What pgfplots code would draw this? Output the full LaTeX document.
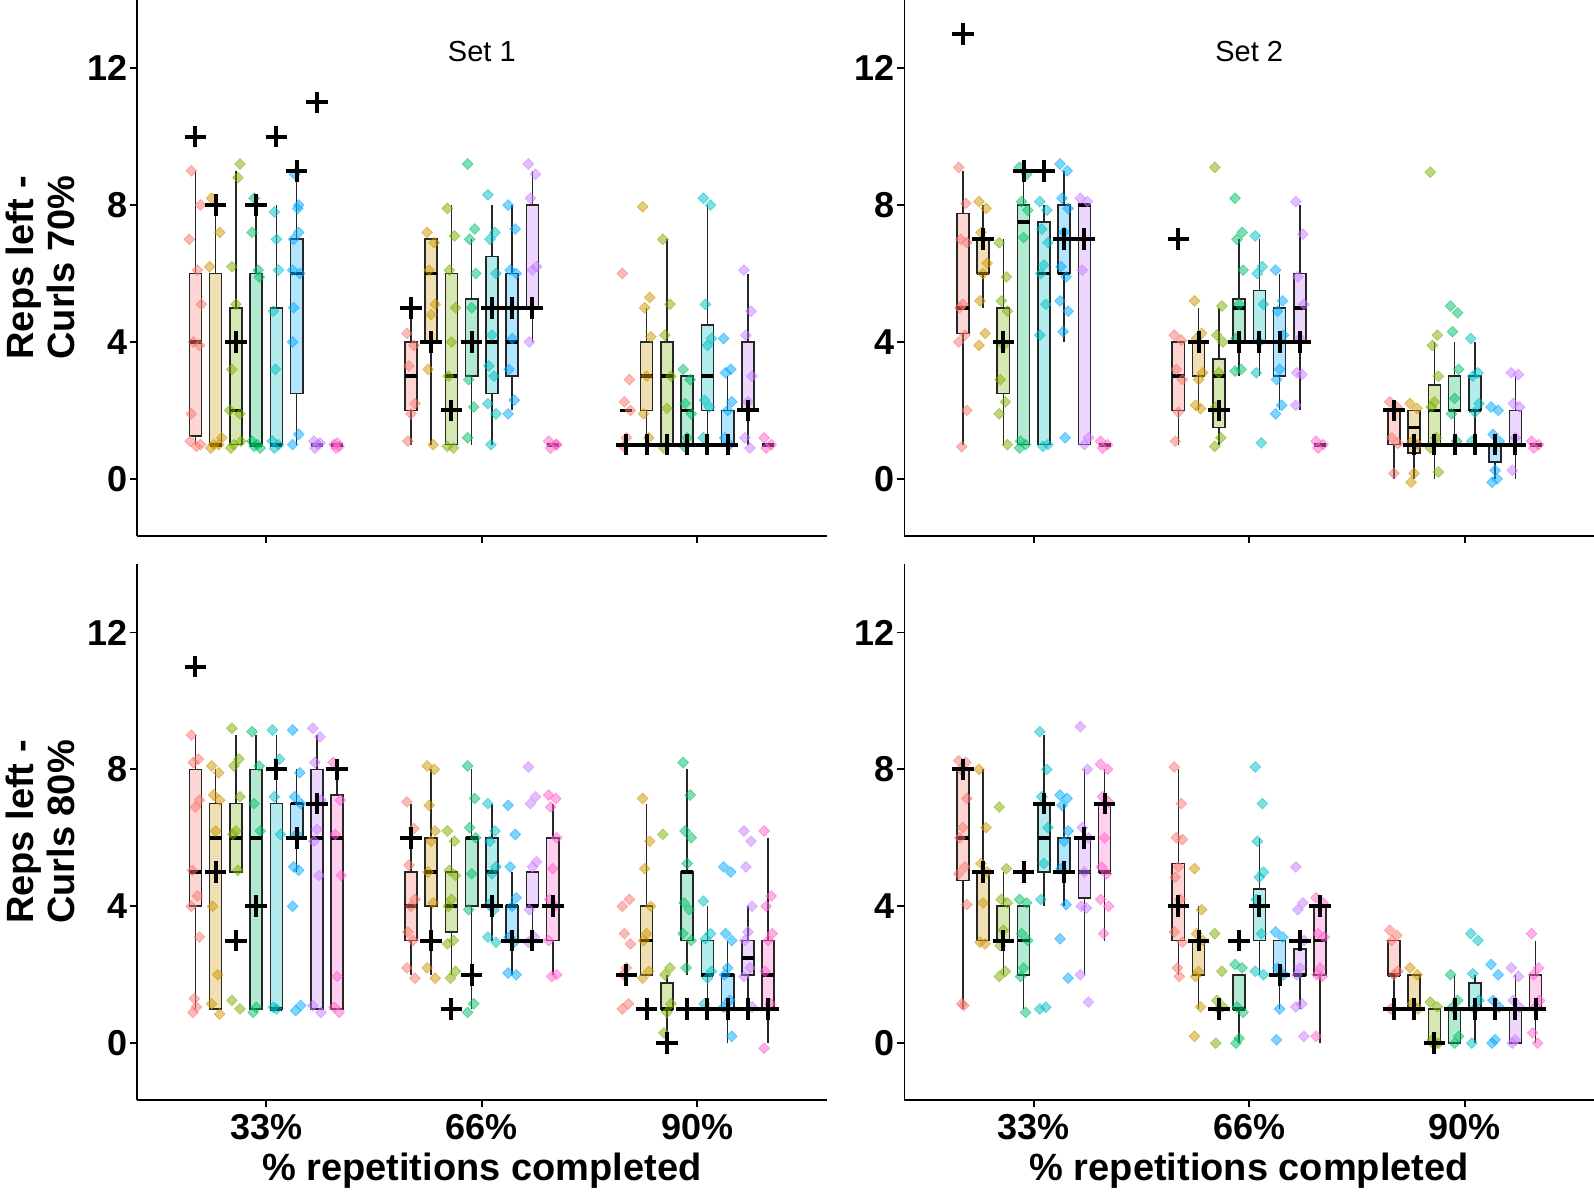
\documentclass[border=0pt]{standalone}
\usepackage{fontspec}
\setmainfont{Liberation Sans}
\usepackage{pgfplots}
\pgfplotsset{compat=1.18}
\usepackage{pgfplotstable}
\usepgfplotslibrary{statistics}
\definecolor{c0}{HTML}{F8766D}
\definecolor{c1}{HTML}{CD9600}
\definecolor{c2}{HTML}{7CAE00}
\definecolor{c3}{HTML}{00BE67}
\definecolor{c4}{HTML}{00BFC4}
\definecolor{c5}{HTML}{00A9FF}
\definecolor{c6}{HTML}{C77CFF}
\definecolor{c7}{HTML}{FF61CC}
\pgfplotsset{
  panel/.style={
    scale only axis, width=344.8pt, height=268pt,
    xmin=0.4, xmax=3.6, ymin=-1.66, ymax=14,
    axis x line*=bottom, axis y line*=left,
    axis line style={line width=0.9pt, black},
    xtick={1,2,3}, ytick={0,4,8,12},
    tick align=outside, major tick length=3.5pt,
    every tick/.style={line width=0.9pt, black},
    tick label style={font=\fontsize{18}{20}\selectfont\bfseries},
    /pgf/number format/assume math mode=true,
    yticklabel style={inner xsep=1pt},
    ylabel style={at={(axis description cs:-0.14,0.5)}, anchor=center, align=center, font=\fontsize{19}{20.5}\selectfont\bfseries},
    xlabel style={at={(axis description cs:0.5,0)}, anchor=center, yshift=-35.5pt, font=\fontsize{19}{21}\selectfont\bfseries},
  },
  /pgfplots/boxplot/every median/.style={line width=1.9pt, draw=black},
  pts/.style={scatter, only marks, scatter src=explicit symbolic, mark=square*, mark size=1.9pt,
    mark options={rotate=45, opacity=0.5},
    scatter/classes={r={c0},o={c1},l={c2},g={c3},t={c4},b={c5},p={c6},k={c7}}},
  pl/.style={only marks, mark=+, mark size=5.4pt, black, line width=2pt, mark options={line width=2pt, draw=black}},
}
\newcommand\bx[7]{\addplot[boxplot prepared={draw direction=y,draw position=#1,lower whisker=#2,lower quartile=#3,median=#4,upper quartile=#5,upper whisker=#6,box extend=0.056,whisker extend=0}, draw=black!85, line width=0.8pt, fill=#7, fill opacity=0.3] coordinates {};}
% points are stored with a dodge step of 0.1; drawn with the chart's dodge step of 0.094
\newcommand\ptsplot[1]{\addplot[pts] table[x expr={round(\thisrow{x})+0.94*(\thisrow{x}-round(\thisrow{x}))}, y=y, meta=c]{#1};}

% ---------- jittered points ----------
\pgfplotstableread[row sep=\\]{x y c\\
0.63 9.0 r\\ 0.675 8.0 r\\ 0.62 7.0 r\\ 0.66 6.1 r\\ 0.68 5.1 r\\ 0.64 4.0 r\\ 0.67 3.9 r\\ 0.63 1.9 r\\ 0.625 1.1 r\\ 0.655 0.95 r\\ 0.675 1.0 r\\
0.73 8.2 o\\ 0.77 7.2 o\\ 0.72 6.2 o\\ 0.78 1.2 o\\ 0.74 1.0 o\\ 0.725 0.9 o\\ 0.765 1.0 o\\
0.87 9.2 l\\ 0.86 8.8 l\\ 0.83 6.2 l\\ 0.85 5.1 l\\ 0.83 3.2 l\\ 0.82 2.0 l\\ 0.87 1.9 l\\ 0.84 1.0 l\\ 0.825 0.9 l\\ 0.875 1.1 l\\
0.94 8.2 g\\ 0.93 7.2 g\\ 0.96 6.1 g\\ 0.965 5.9 g\\ 0.93 1.1 g\\ 0.955 1.0 g\\ 0.97 0.9 g\\ 0.94 0.95 g\\
1.04 7.8 t\\ 1.05 7.0 t\\ 1.06 6.1 t\\ 1.035 4.9 t\\ 1.045 3.2 t\\ 1.03 1.1 t\\ 1.06 1.0 t\\ 1.04 0.9 t\\
1.14 8.9 b\\ 1.16 8.0 b\\ 1.155 7.9 b\\ 1.16 7.2 b\\ 1.135 7.0 b\\ 1.13 6.1 b\\ 1.165 6.0 b\\ 1.135 5.0 b\\ 1.13 4.0 b\\ 1.16 1.3 b\\ 1.13 1.0 b\\
1.235 1.1 p\\ 1.255 1.0 p\\ 1.24 0.9 p\\ 1.265 1.05 p\\
1.335 1.0 k\\ 1.36 0.95 k\\ 1.35 1.05 k\\ 1.345 0.9 k\\
1.63 4.25 r\\ 1.665 3.9 r\\ 1.64 3.3 r\\ 1.67 2.2 r\\ 1.65 1.9 r\\ 1.635 1.1 r\\
1.73 7.2 o\\ 1.765 6.9 o\\ 1.74 6.1 o\\ 1.77 5.1 o\\ 1.75 4.8 o\\ 1.735 3.2 o\\ 1.76 1.0 o\\
1.83 7.9 l\\ 1.865 7.1 l\\ 1.84 6.1 l\\ 1.87 5.0 l\\ 1.85 4.0 l\\ 1.835 3.0 l\\ 1.86 0.9 l\\ 1.83 0.95 l\\
1.93 9.2 g\\ 1.965 7.3 g\\ 1.94 7.0 g\\ 1.97 6.0 g\\ 1.95 5.0 g\\ 1.935 2.9 g\\ 1.96 2.1 g\\ 1.93 1.2 g\\
2.03 8.3 t\\ 2.065 7.2 t\\ 2.04 7.0 t\\ 2.07 6.0 t\\ 2.05 4.2 t\\ 2.035 3.3 t\\ 2.06 3.0 t\\ 2.03 2.2 t\\ 2.07 1.9 t\\ 2.045 1.0 t\\
2.13 8.0 b\\ 2.165 7.3 b\\ 2.14 6.1 b\\ 2.17 6.0 b\\ 2.15 4.1 b\\ 2.135 3.2 b\\ 2.16 2.3 b\\ 2.13 1.9 b\\
2.23 9.2 p\\ 2.265 8.9 p\\ 2.24 8.2 p\\ 2.27 6.2 p\\ 2.25 6.1 p\\ 2.235 4.0 p\\
2.33 1.1 k\\ 2.365 1.0 k\\ 2.34 0.9 k\\ 2.37 1.0 k\\
2.63 6.0 r\\ 2.665 2.9 r\\ 2.64 2.25 r\\ 2.67 2.0 r\\ 2.65 1.2 r\\ 2.635 0.95 r\\
2.73 7.95 o\\ 2.765 5.3 o\\ 2.74 5.0 o\\ 2.77 4.15 o\\ 2.75 3.0 o\\ 2.735 1.9 o\\ 2.76 1.2 o\\
2.83 7.0 l\\ 2.865 5.1 l\\ 2.84 4.2 l\\ 2.87 3.0 l\\ 2.85 2.06 l\\ 2.835 0.9 l\\
2.93 3.2 g\\ 2.965 2.9 g\\ 2.94 2.2 g\\ 2.97 1.9 g\\ 2.95 1.2 g\\ 2.935 0.95 g\\
3.03 8.2 t\\ 3.065 8.0 t\\ 3.04 5.1 t\\ 3.07 4.1 t\\ 3.05 3.9 t\\ 3.035 2.3 t\\ 3.06 2.1 t\\ 3.03 1.2 t\\
3.13 4.1 b\\ 3.165 3.2 b\\ 3.14 3.1 b\\ 3.17 2.25 b\\ 3.15 2.0 b\\ 3.135 1.2 b\\ 3.16 1.0 b\\
3.23 6.1 p\\ 3.265 4.9 p\\ 3.24 4.2 p\\ 3.27 3.0 p\\ 3.25 2.25 p\\ 3.235 1.2 p\\ 3.26 0.9 p\\
3.33 1.2 k\\ 3.365 1.0 k\\ 3.34 0.9 k\\
}\ptsA

\pgfplotstableread[row sep=\\]{x y c\\
0.63 9.1 r\\ 0.665 8.05 r\\ 0.64 7.0 r\\ 0.67 6.9 r\\ 0.65 5.1 r\\ 0.635 5.0 r\\ 0.66 4.2 r\\ 0.63 4.0 r\\ 0.67 2.0 r\\ 0.645 0.94 r\\
0.73 8.1 o\\ 0.765 7.9 o\\ 0.74 7.2 o\\ 0.77 6.3 o\\ 0.75 6.0 o\\ 0.735 5.2 o\\ 0.76 4.25 o\\ 0.73 3.9 o\\
0.83 6.9 l\\ 0.865 5.9 l\\ 0.84 5.2 l\\ 0.87 4.9 l\\ 0.85 3.9 l\\ 0.835 2.9 l\\ 0.86 2.25 l\\ 0.83 1.9 l\\ 0.87 1.0 l\\
0.93 9.1 g\\ 0.965 8.9 g\\ 0.94 8.1 g\\ 0.97 7.85 g\\ 0.95 7.05 g\\ 0.935 1.1 g\\ 0.96 1.0 g\\ 0.93 0.9 g\\
1.03 8.1 t\\ 1.065 7.85 t\\ 1.04 7.3 t\\ 1.07 6.9 t\\ 1.05 6.25 t\\ 1.035 6.0 t\\ 1.06 5.1 t\\ 1.03 4.2 t\\ 1.07 1.0 t\\ 1.045 0.95 t\\
1.13 9.2 b\\ 1.165 9.0 b\\ 1.14 8.2 b\\ 1.17 7.9 b\\ 1.15 7.2 b\\ 1.135 6.2 b\\ 1.16 5.9 b\\ 1.13 5.2 b\\ 1.17 4.9 b\\ 1.145 4.3 b\\ 1.155 1.2 b\\
1.23 8.2 p\\ 1.265 8.1 p\\ 1.24 6.1 p\\ 1.27 1.2 p\\ 1.25 1.0 p\\
1.33 1.1 k\\ 1.365 1.0 k\\ 1.34 0.9 k\\
1.63 4.2 r\\ 1.665 4.05 r\\ 1.64 3.2 r\\ 1.67 2.9 r\\ 1.65 1.95 r\\ 1.635 1.1 r\\
1.73 5.2 o\\ 1.765 4.25 o\\ 1.74 4.1 o\\ 1.77 3.1 o\\ 1.75 2.9 o\\ 1.735 2.15 o\\ 1.76 2.05 o\\
1.83 9.1 l\\ 1.865 5.05 l\\ 1.84 4.2 l\\ 1.87 4.0 l\\ 1.85 3.1 l\\ 1.835 2.1 l\\ 1.86 1.2 l\\ 1.83 0.95 l\\
1.93 8.2 g\\ 1.965 7.2 g\\ 1.94 7.0 g\\ 1.97 6.1 g\\ 1.95 5.1 g\\ 1.935 4.1 g\\ 1.96 3.2 g\\ 1.93 3.15 g\\
2.03 7.1 t\\ 2.065 6.2 t\\ 2.04 6.0 t\\ 2.07 5.1 t\\ 2.05 4.0 t\\ 2.035 3.1 t\\ 2.06 1.05 t\\
2.13 6.1 b\\ 2.165 5.2 b\\ 2.14 4.9 b\\ 2.17 4.2 b\\ 2.15 3.2 b\\ 2.135 2.9 b\\ 2.16 2.15 b\\ 2.13 1.9 b\\
2.23 8.1 p\\ 2.265 7.15 p\\ 2.24 5.9 p\\ 2.27 5.1 p\\ 2.25 4.1 p\\ 2.235 3.1 p\\ 2.26 3.05 p\\ 2.23 2.15 p\\
2.33 1.1 k\\ 2.365 1.0 k\\ 2.34 0.9 k\\
2.63 2.25 r\\ 2.665 2.1 r\\ 2.64 1.2 r\\ 2.67 1.04 r\\ 2.65 0.16 r\\
2.73 2.2 o\\ 2.765 2.06 o\\ 2.74 1.1 o\\ 2.77 1.0 o\\ 2.75 0.16 o\\ 2.735 -0.1 o\\
2.83 8.96 l\\ 2.865 4.2 l\\ 2.84 3.9 l\\ 2.87 3.0 l\\ 2.85 2.25 l\\ 2.835 2.1 l\\ 2.86 1.2 l\\ 2.83 0.9 l\\ 2.87 0.2 l\\
2.93 5.05 g\\ 2.965 4.85 g\\ 2.94 4.3 g\\ 2.97 3.2 g\\ 2.95 2.35 g\\ 2.935 1.9 g\\ 2.96 1.1 g\\
3.03 4.1 t\\ 3.065 3.1 t\\ 3.04 3.0 t\\ 3.07 2.2 t\\ 3.05 1.95 t\\ 3.035 1.1 t\\
3.13 2.1 b\\ 3.165 2.0 b\\ 3.14 1.3 b\\ 3.17 1.1 b\\ 3.15 0.25 b\\ 3.135 -0.1 b\\ 3.16 0.0 b\\
3.23 3.1 p\\ 3.265 3.05 p\\ 3.24 2.2 p\\ 3.27 2.1 p\\ 3.25 1.2 p\\ 3.235 0.25 p\\
3.33 1.1 k\\ 3.365 1.0 k\\ 3.34 0.9 k\\
}\ptsB

\pgfplotstableread[row sep=\\]{x y c\\
0.63 9.0 r\\ 0.665 8.3 r\\ 0.64 8.2 r\\ 0.67 7.1 r\\ 0.65 6.9 r\\ 0.635 5.05 r\\ 0.66 4.3 r\\ 0.63 4.0 r\\ 0.67 3.1 r\\ 0.645 1.3 r\\ 0.655 1.06 r\\ 0.638 0.9 r\\
0.73 8.1 o\\ 0.765 7.9 o\\ 0.74 7.25 o\\ 0.77 7.1 o\\ 0.75 6.2 o\\ 0.735 4.0 o\\ 0.76 2.0 o\\ 0.73 1.15 o\\ 0.77 0.85 o\\
0.83 9.2 l\\ 0.865 8.3 l\\ 0.84 8.1 l\\ 0.87 7.2 l\\ 0.85 6.2 l\\ 0.835 6.1 l\\ 0.86 5.05 l\\ 0.83 1.25 l\\ 0.87 1.0 l\\
0.93 9.1 g\\ 0.965 8.1 g\\ 0.94 7.0 g\\ 0.97 6.2 g\\ 0.95 1.05 g\\ 0.935 0.9 g\\
1.03 9.15 t\\ 1.065 8.3 t\\ 1.04 7.2 t\\ 1.07 6.1 t\\ 1.05 1.0 t\\ 1.035 1.05 t\\
1.13 9.15 b\\ 1.165 7.9 b\\ 1.14 7.2 b\\ 1.17 7.0 b\\ 1.15 6.1 b\\ 1.135 5.15 b\\ 1.16 5.05 b\\ 1.13 4.0 b\\ 1.17 1.1 b\\ 1.145 0.95 b\\
1.23 9.2 p\\ 1.265 8.95 p\\ 1.24 8.2 p\\ 1.27 7.1 p\\ 1.25 6.25 p\\ 1.235 5.9 p\\ 1.26 4.9 p\\ 1.23 1.1 p\\ 1.27 0.9 p\\
1.33 8.2 k\\ 1.365 7.1 k\\ 1.34 6.1 k\\ 1.37 4.9 k\\ 1.35 1.95 k\\ 1.335 1.05 k\\ 1.36 0.9 k\\
1.63 7.05 r\\ 1.665 6.27 r\\ 1.64 5.2 r\\ 1.67 4.2 r\\ 1.65 4.0 r\\ 1.635 3.25 r\\ 1.66 3.0 r\\ 1.63 2.2 r\\ 1.67 1.9 r\\
1.73 8.1 o\\ 1.765 8.0 o\\ 1.74 6.95 o\\ 1.77 6.2 o\\ 1.75 5.9 o\\ 1.735 5.0 o\\ 1.76 4.1 o\\ 1.73 2.2 o\\ 1.77 1.9 o\\
1.83 6.2 l\\ 1.865 5.9 l\\ 1.84 5.05 l\\ 1.87 4.9 l\\ 1.85 4.2 l\\ 1.835 4.0 l\\ 1.86 3.0 l\\ 1.83 2.9 l\\ 1.87 2.1 l\\ 1.845 1.9 l\\
1.93 8.1 g\\ 1.965 7.15 g\\ 1.94 6.3 g\\ 1.97 6.0 g\\ 1.95 4.95 g\\ 1.935 3.9 g\\ 1.96 1.15 g\\ 1.93 0.9 g\\
2.03 7.0 t\\ 2.065 6.2 t\\ 2.04 5.9 t\\ 2.07 5.15 t\\ 2.05 4.95 t\\ 2.035 4.05 t\\ 2.06 3.9 t\\ 2.03 3.1 t\\ 2.07 2.95 t\\
2.13 6.95 b\\ 2.165 6.1 b\\ 2.14 5.15 b\\ 2.17 4.25 b\\ 2.15 4.0 b\\ 2.135 3.1 b\\ 2.16 2.95 b\\ 2.13 2.05 b\\ 2.17 2.0 b\\
2.23 8.07 p\\ 2.265 7.2 p\\ 2.24 7.0 p\\ 2.27 5.3 p\\ 2.25 5.15 p\\ 2.235 3.9 p\\ 2.26 3.1 p\\ 2.23 2.95 p\\
2.33 7.25 k\\ 2.365 7.15 k\\ 2.34 6.9 k\\ 2.37 6.0 k\\ 2.35 5.1 k\\ 2.335 4.2 k\\ 2.36 4.0 k\\ 2.33 3.0 k\\ 2.37 2.0 k\\ 2.345 1.95 k\\
2.63 4.0 r\\ 2.665 4.2 r\\ 2.64 3.2 r\\ 2.67 2.9 r\\ 2.65 2.2 r\\ 2.635 2.0 r\\ 2.66 1.15 r\\ 2.63 1.0 r\\
2.73 7.15 o\\ 2.765 5.9 o\\ 2.74 5.1 o\\ 2.77 4.0 o\\ 2.75 3.2 o\\ 2.735 3.0 o\\ 2.76 2.1 o\\ 2.73 1.9 o\\
2.83 6.1 l\\ 2.865 2.2 l\\ 2.84 2.0 l\\ 2.87 1.15 l\\ 2.85 0.9 l\\ 2.835 0.3 l\\
2.93 8.2 g\\ 2.965 7.25 g\\ 2.94 6.2 g\\ 2.97 6.0 g\\ 2.95 5.25 g\\ 2.935 4.1 g\\ 2.96 3.9 g\\ 2.93 3.2 g\\ 2.97 3.0 g\\ 2.945 2.2 g\\
3.03 4.15 t\\ 3.065 3.2 t\\ 3.04 3.05 t\\ 3.07 2.1 t\\ 3.05 1.9 t\\ 3.035 1.15 t\\
3.13 5.15 b\\ 3.165 5.0 b\\ 3.14 3.2 b\\ 3.17 3.0 b\\ 3.15 2.2 b\\ 3.135 2.0 b\\ 3.16 1.25 b\\ 3.13 1.05 b\\ 3.17 0.2 b\\
3.23 6.2 p\\ 3.265 5.9 p\\ 3.24 5.15 p\\ 3.27 4.0 p\\ 3.25 3.25 p\\ 3.235 3.0 p\\ 3.26 2.2 p\\ 3.23 1.95 p\\ 3.27 1.06 p\\
3.33 6.2 k\\ 3.365 4.3 k\\ 3.34 4.0 k\\ 3.37 3.2 k\\ 3.35 3.0 k\\ 3.335 2.1 k\\ 3.36 1.15 k\\ 3.33 -0.15 k\\
}\ptsC

\pgfplotstableread[row sep=\\]{x y c\\
0.63 8.25 r\\ 0.665 8.2 r\\ 0.64 8.0 r\\ 0.67 7.15 r\\ 0.65 6.3 r\\ 0.635 6.0 r\\ 0.66 5.15 r\\ 0.63 4.95 r\\ 0.67 4.05 r\\ 0.645 1.15 r\\ 0.655 1.1 r\\
0.73 8.0 o\\ 0.765 6.3 o\\ 0.74 5.25 o\\ 0.77 5.0 o\\ 0.75 4.1 o\\ 0.735 2.95 o\\ 0.76 2.9 o\\
0.83 6.9 l\\ 0.865 5.1 l\\ 0.84 4.2 l\\ 0.87 4.1 l\\ 0.85 3.3 l\\ 0.835 2.85 l\\ 0.86 2.1 l\\ 0.83 1.95 l\\
0.93 4.2 g\\ 0.965 4.1 g\\ 0.94 3.2 g\\ 0.97 3.0 g\\ 0.95 2.2 g\\ 0.935 1.95 g\\ 0.96 0.9 g\\
1.03 9.1 t\\ 1.065 8.0 t\\ 1.04 7.2 t\\ 1.07 6.3 t\\ 1.05 5.25 t\\ 1.035 4.2 t\\ 1.06 1.05 t\\ 1.03 1.0 t\\
1.13 7.25 b\\ 1.165 7.15 b\\ 1.14 6.95 b\\ 1.17 6.2 b\\ 1.15 5.9 b\\ 1.135 5.1 b\\ 1.16 4.05 b\\ 1.13 3.05 b\\ 1.17 1.9 b\\
1.23 9.25 p\\ 1.265 8.0 p\\ 1.24 6.3 p\\ 1.27 6.0 p\\ 1.25 5.0 p\\ 1.235 4.0 p\\ 1.26 3.95 p\\ 1.23 2.0 p\\ 1.27 1.2 p\\
1.33 8.15 k\\ 1.365 8.0 k\\ 1.34 7.2 k\\ 1.37 7.05 k\\ 1.35 6.0 k\\ 1.335 5.15 k\\ 1.36 4.95 k\\ 1.33 4.2 k\\ 1.37 4.0 k\\ 1.345 3.2 k\\
1.63 8.07 r\\ 1.665 7.0 r\\ 1.64 6.0 r\\ 1.67 5.95 r\\ 1.65 5.15 r\\ 1.635 4.85 r\\ 1.66 4.2 r\\ 1.63 3.25 r\\ 1.67 2.95 r\\ 1.645 2.2 r\\ 1.655 1.95 r\\
1.73 5.1 o\\ 1.765 3.9 o\\ 1.74 3.2 o\\ 1.77 3.0 o\\ 1.75 2.1 o\\ 1.735 1.95 o\\ 1.76 1.06 o\\ 1.73 0.2 o\\
1.83 3.2 l\\ 1.865 2.1 l\\ 1.84 1.25 l\\ 1.87 1.06 l\\ 1.85 1.0 l\\ 1.835 0.0 l\\
1.93 2.3 g\\ 1.965 2.2 g\\ 1.94 1.06 g\\ 1.97 0.9 g\\ 1.95 0.14 g\\ 1.935 0.0 g\\
2.03 8.07 t\\ 2.065 7.0 t\\ 2.04 5.9 t\\ 2.07 5.0 t\\ 2.05 4.85 t\\ 2.035 4.2 t\\ 2.06 3.2 t\\ 2.03 2.1 t\\ 2.07 2.0 t\\
2.13 3.25 b\\ 2.165 3.1 b\\ 2.14 2.2 b\\ 2.17 2.0 b\\ 2.15 1.0 b\\ 2.135 0.1 b\\
2.23 5.15 p\\ 2.265 4.1 p\\ 2.24 3.9 p\\ 2.27 3.0 p\\ 2.25 2.2 p\\ 2.235 2.0 p\\ 2.26 1.15 p\\ 2.23 1.06 p\\ 2.27 0.2 p\\
2.33 4.25 k\\ 2.365 4.1 k\\ 2.34 3.2 k\\ 2.37 3.1 k\\ 2.35 2.2 k\\ 2.335 2.0 k\\ 2.36 1.95 k\\ 2.33 0.2 k\\
2.63 3.3 r\\ 2.665 3.15 r\\ 2.64 3.0 r\\ 2.67 2.1 r\\ 2.65 2.0 r\\ 2.635 1.0 r\\
2.73 2.2 o\\ 2.765 2.0 o\\ 2.74 1.15 o\\ 2.77 1.0 o\\
2.83 1.2 l\\ 2.865 1.06 l\\ 2.84 0.1 l\\ 2.87 0.0 l\\ 2.85 -0.05 l\\
2.93 2.0 g\\ 2.965 1.25 g\\ 2.94 1.05 g\\ 2.97 0.2 g\\ 2.95 0.0 g\\
3.03 3.2 t\\ 3.065 3.0 t\\ 3.04 2.03 t\\ 3.07 1.25 t\\ 3.05 1.0 t\\ 3.035 0.0 t\\
3.13 2.3 b\\ 3.165 2.0 b\\ 3.14 1.25 b\\ 3.17 1.05 b\\ 3.15 0.1 b\\ 3.135 0.0 b\\
3.23 2.2 p\\ 3.265 1.95 p\\ 3.24 1.25 p\\ 3.27 1.05 p\\ 3.25 0.1 p\\ 3.235 0.0 p\\
3.33 3.2 k\\ 3.365 2.2 k\\ 3.34 2.0 k\\ 3.37 1.25 k\\ 3.35 1.05 k\\ 3.335 0.3 k\\ 3.36 0.0 k\\
}\ptsD

\begin{document}
\begin{tikzpicture}
% ================= Top left: Set 1, 70% =================
\begin{axis}[panel, at={(68.5pt,329.15pt)}, anchor=south west, xticklabels={,,},
  ylabel={Reps left -\\Curls 70\%}]
\bx{0.671}{1}{1.25}{4}{6}{9}{c0}
\bx{0.765}{1}{1}{1}{6}{8}{c1}
\bx{0.859}{1}{1}{2}{5}{9}{c2}
\bx{0.953}{1}{1}{1}{6}{8}{c3}
\bx{1.047}{1}{1}{1}{5}{8}{c4}
\bx{1.141}{1}{2.5}{6}{7}{9}{c5}
\bx{1.235}{1}{1}{1}{1}{1}{c6}
\bx{1.329}{1}{1}{1}{1}{1}{c7}
\bx{1.671}{1}{2}{3}{4}{5}{c0}
\bx{1.765}{1}{4}{6}{7}{7}{c1}
\bx{1.859}{1}{1}{3}{6}{8}{c2}
\bx{1.953}{1}{3}{4}{5.25}{7}{c3}
\bx{2.047}{1}{2.5}{4}{6.5}{8}{c4}
\bx{2.141}{2}{3}{4}{6}{8}{c5}
\bx{2.235}{4}{5}{5}{8}{9}{c6}
\bx{2.329}{1}{1}{1}{1}{1}{c7}
\bx{2.671}{2}{2}{2}{2}{2}{c0}
\bx{2.765}{1}{2}{3}{4}{5}{c1}
\bx{2.859}{1}{1}{3}{4}{7}{c2}
\bx{2.953}{1}{1}{2}{3}{3}{c3}
\bx{3.047}{1}{2}{3}{4.5}{8}{c4}
\bx{3.141}{1}{1}{1}{2}{3}{c5}
\bx{3.235}{1}{2}{2}{4}{6}{c6}
\bx{3.329}{1}{1}{1}{1}{1}{c7}
\ptsplot{\ptsA}
\addplot[pl] coordinates {(0.671,10) (0.765,8) (0.859,4) (0.953,8) (1.047,10) (1.141,9) (1.235,11)
 (1.671,5) (1.765,4) (1.859,2) (1.953,4) (2.047,5) (2.141,5) (2.235,5)
 (2.671,1) (2.765,1) (2.859,1) (2.953,1) (3.047,1) (3.141,1) (3.235,2)};
\node[font=\fontsize{14.5}{16}\selectfont] at (axis cs:2,12.5) {Set 1};
\end{axis}
% ================= Top right: Set 2, 70% =================
\begin{axis}[panel, at={(452.2pt,329.15pt)}, anchor=south west, xticklabels={,,}]
\bx{0.671}{1}{4.25}{5}{7.75}{9}{c0}
\bx{0.765}{5}{6}{6}{7}{8}{c1}
\bx{0.859}{1}{2.5}{4}{5}{7}{c2}
\bx{0.953}{1}{1}{7.5}{8}{9}{c3}
\bx{1.047}{1}{1}{6}{7.5}{8}{c4}
\bx{1.141}{4}{6}{6}{8}{9}{c5}
\bx{1.235}{1}{1}{8}{8}{8}{c6}
\bx{1.329}{1}{1}{1}{1}{1}{c7}
\bx{1.671}{1}{2}{3}{4}{4}{c0}
\bx{1.765}{2}{3}{4}{4}{5}{c1}
\bx{1.859}{1}{1.5}{3}{3.5}{5}{c2}
\bx{1.953}{3}{4}{5}{5.25}{7}{c3}
\bx{2.047}{3}{4}{4}{5.5}{7}{c4}
\bx{2.141}{2}{3}{4}{5}{6}{c5}
\bx{2.235}{2}{4}{5}{6}{8}{c6}
\bx{2.329}{1}{1}{1}{1}{1}{c7}
\bx{2.671}{0}{1}{2}{2}{2}{c0}
\bx{2.765}{0}{0.75}{1.5}{2}{2}{c1}
\bx{2.859}{0}{1}{2}{2.75}{4}{c2}
\bx{2.953}{1}{2}{2}{3}{4}{c3}
\bx{3.047}{1}{2}{2}{3}{4}{c4}
\bx{3.141}{0}{0.5}{1}{1}{1}{c5}
\bx{3.235}{0}{1}{1}{2}{3}{c6}
\bx{3.329}{1}{1}{1}{1}{1}{c7}
\ptsplot{\ptsB}
\addplot[pl] coordinates {(0.671,13) (0.765,7) (0.859,4) (0.953,9) (1.047,9) (1.141,7) (1.235,7)
 (1.671,7) (1.765,4) (1.859,2) (1.953,4) (2.047,4) (2.141,4) (2.235,4)
 (2.671,2) (2.765,1) (2.859,1) (2.953,1) (3.047,1) (3.141,1) (3.235,1)};
\node[font=\fontsize{14.5}{16}\selectfont] at (axis cs:2,12.5) {Set 2};
\end{axis}
% ================= Bottom left: Set 1, 80% =================
\begin{axis}[panel, at={(68.5pt,47pt)}, anchor=south west, xticklabels={33\%,66\%,90\%},
  ylabel={Reps left -\\Curls 80\%}, xlabel={\% repetitions completed}]
\bx{0.671}{1}{4}{5}{8}{9}{c0}
\bx{0.765}{1}{1}{6}{7}{8}{c1}
\bx{0.859}{5}{5}{6}{7}{9}{c2}
\bx{0.953}{1}{1}{6}{8}{9}{c3}
\bx{1.047}{1}{1}{1}{7}{9}{c4}
\bx{1.141}{5}{6}{7}{7}{8}{c5}
\bx{1.235}{1}{1}{6}{8}{9}{c6}
\bx{1.329}{1}{1}{6}{7.25}{8}{c7}
\bx{1.671}{2}{3}{4}{5}{7}{c0}
\bx{1.765}{2}{4}{5}{6}{8}{c1}
\bx{1.859}{2}{3.25}{4}{5}{6}{c2}
\bx{1.953}{1}{4}{6}{6}{8}{c3}
\bx{2.047}{3}{4}{5}{6}{7}{c4}
\bx{2.141}{2}{3}{4}{4}{5}{c5}
\bx{2.235}{3}{4}{4}{5}{5}{c6}
\bx{2.329}{2}{3}{4}{6}{7}{c7}
\bx{2.671}{2}{2}{2}{2}{2}{c0}
\bx{2.765}{2}{2}{3}{4}{7}{c1}
\bx{2.859}{0}{1}{1}{1.75}{2}{c2}
\bx{2.953}{2}{3}{5}{5}{8}{c3}
\bx{3.047}{1}{2}{2}{3}{4}{c4}
\bx{3.141}{0}{1}{2}{2}{3}{c5}
\bx{3.235}{1}{2}{2.5}{3}{4}{c6}
\bx{3.329}{0}{1}{2}{3}{6}{c7}
\ptsplot{\ptsC}
\addplot[pl] coordinates {(0.671,11) (0.765,5) (0.859,3) (0.953,4) (1.047,8) (1.141,6) (1.235,7) (1.329,8)
 (1.671,6) (1.765,3) (1.859,1) (1.953,2) (2.047,4) (2.141,3) (2.235,3) (2.329,4)
 (2.671,2) (2.765,1) (2.859,0) (2.953,1) (3.047,1) (3.141,1) (3.235,1) (3.329,1)};
\end{axis}
% ================= Bottom right: Set 2, 80% =================
\begin{axis}[panel, at={(452.2pt,47pt)}, anchor=south west, xticklabels={33\%,66\%,90\%},
  xlabel={\% repetitions completed}]
\bx{0.671}{1}{4.75}{6}{8}{8}{c0}
\bx{0.765}{3}{3}{5}{5}{8}{c1}
\bx{0.859}{2}{3}{3}{4}{5}{c2}
\bx{0.953}{1}{2}{3}{4}{4}{c3}
\bx{1.047}{4}{5}{6}{7}{9}{c4}
\bx{1.141}{4}{5}{5}{6}{7}{c5}
\bx{1.235}{2}{4.25}{5}{6}{8}{c6}
\bx{1.329}{3}{5}{5}{7}{8}{c7}
\bx{1.671}{2}{3}{4}{5.25}{8}{c0}
\bx{1.765}{1}{2}{3}{3}{4}{c1}
\bx{1.859}{1}{1}{1}{1}{1}{c2}
\bx{1.953}{0}{1}{1}{2}{2}{c3}
\bx{2.047}{2}{3}{4}{4.5}{6}{c4}
\bx{2.141}{1}{2}{2}{3}{3}{c5}
\bx{2.235}{1}{2}{2}{2.75}{3}{c6}
\bx{2.329}{0}{2}{3}{4}{4}{c7}
\bx{2.671}{1}{2}{2}{3}{3}{c0}
\bx{2.765}{1}{1}{1}{2}{2}{c1}
\bx{2.859}{0}{0}{0}{1}{1}{c2}
\bx{2.953}{0}{0}{1}{1}{2}{c3}
\bx{3.047}{0}{1}{1}{1.75}{2}{c4}
\bx{3.141}{1}{1}{1}{1}{1}{c5}
\bx{3.235}{0}{0}{1}{1}{2}{c6}
\bx{3.329}{0}{1}{1}{2}{3}{c7}
\ptsplot{\ptsD}
\addplot[pl] coordinates {(0.671,8) (0.765,5) (0.859,3) (0.953,5) (1.047,7) (1.141,5) (1.235,6) (1.329,7)
 (1.671,4) (1.765,3) (1.859,1) (1.953,3) (2.047,4) (2.141,2) (2.235,3) (2.329,4)
 (2.671,1) (2.765,1) (2.859,0) (2.953,1) (3.047,1) (3.141,1) (3.235,1) (3.329,1)};
\end{axis}
\pgfresetboundingbox
\path[use as bounding box] (0,0) rectangle (797pt,597pt);
\end{tikzpicture}
\end{document}
